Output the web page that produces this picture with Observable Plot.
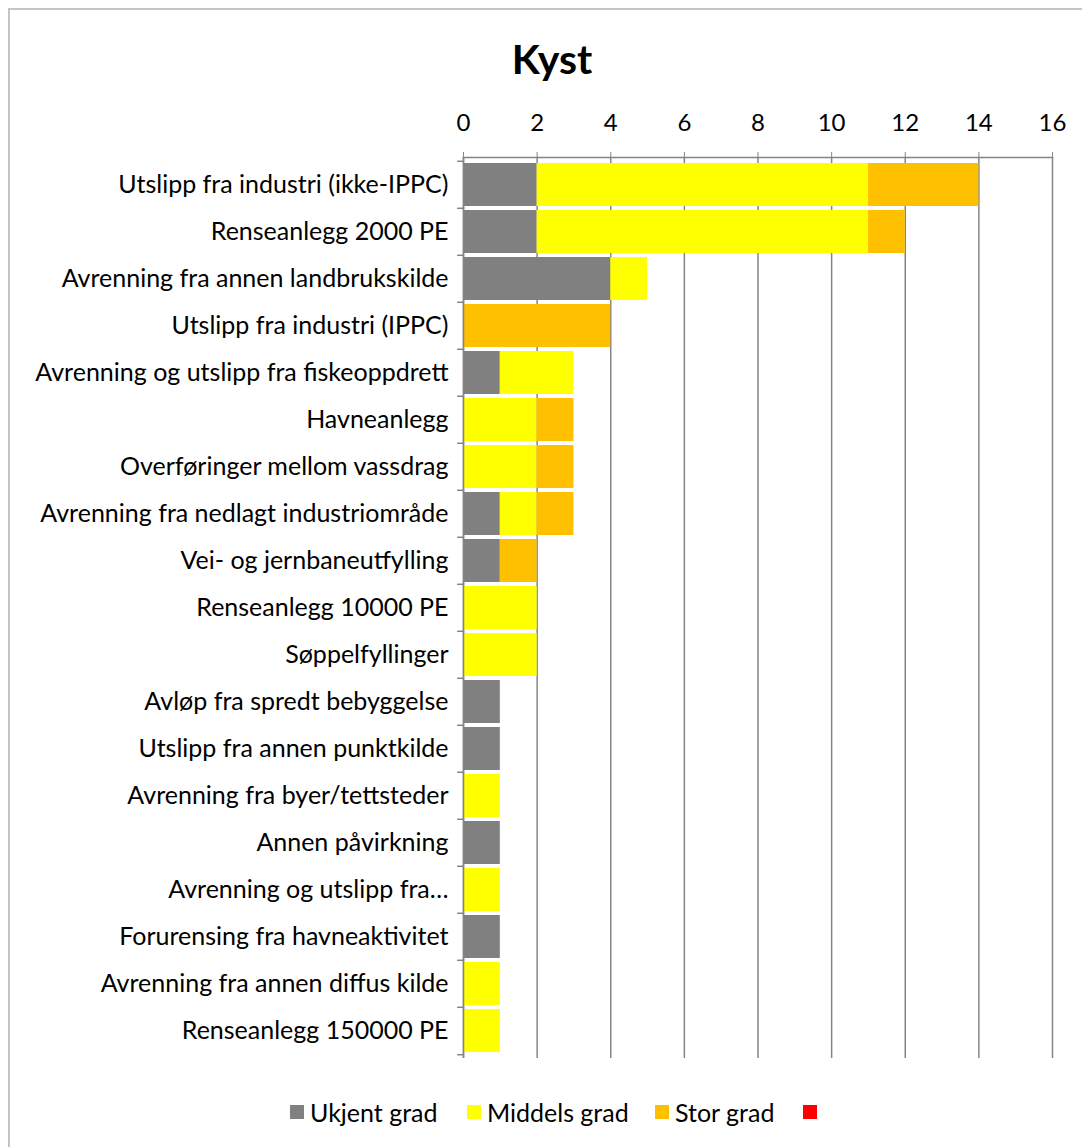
<!DOCTYPE html>
<html>
<head>
<meta charset="utf-8">
<script src="https://cdn.jsdelivr.net/npm/d3@7"></script>
<script src="https://cdn.jsdelivr.net/npm/@observablehq/plot@0.6"></script>
<style>
  html, body { margin: 0; padding: 0; background: #fff; overflow: hidden; }
  #wrap { position: relative; width: 1082px; height: 1147px; font-family: Lato, "Open Sans", sans-serif; }
  #frame { position: absolute; left: 8px; top: 8px; width: 1200px; height: 1300px; border-left: 2px solid #c4c4c4; border-top: 2px solid #c4c4c4; }
  #title { position: absolute; left: 0; width: 1104px; top: 34px; text-align: center; font-weight: 700; font-size: 41px; line-height: 50px; color: #000; }
  #chart { position: absolute; left: 0; top: 0; }
  #legend { position: absolute; left: 0; top: 1095px; width: 1082px; height: 34px; font-size: 25px; color: #000; }
  .li { position: absolute; top: 0; height: 34px; display: flex; align-items: center; }
  .sw { width: 14px; height: 14px; margin-right: 6px; }
</style>
</head>
<body>
<div id="wrap">
  <div id="frame"></div>
  <div id="title">Kyst</div>
  <div id="chart"></div>
  <div id="legend"></div>
</div>
<script>
const categories = [
  "Utslipp fra industri (ikke-IPPC)",
  "Renseanlegg 2000 PE",
  "Avrenning fra annen landbrukskilde",
  "Utslipp fra industri (IPPC)",
  "Avrenning og utslipp fra fiskeoppdrett",
  "Havneanlegg",
  "Overføringer mellom vassdrag",
  "Avrenning fra nedlagt industriområde",
  "Vei- og jernbaneutfylling",
  "Renseanlegg 10000 PE",
  "Søppelfyllinger",
  "Avløp fra spredt bebyggelse",
  "Utslipp fra annen punktkilde",
  "Avrenning fra byer/tettsteder",
  "Annen påvirkning",
  "Avrenning og utslipp fra…",
  "Forurensing fra havneaktivitet",
  "Avrenning fra annen diffus kilde",
  "Renseanlegg 150000 PE"
];
const ukjentGrad   = [2, 2, 4, 0, 1, 0, 0, 1, 1, 0, 0, 1, 1, 0, 1, 0, 1, 0, 0];
const middelsGrad  = [9, 9, 1, 0, 2, 2, 2, 1, 0, 2, 2, 0, 0, 1, 0, 1, 0, 1, 1];
const storGrad     = [3, 1, 0, 4, 0, 1, 1, 1, 1, 0, 0, 0, 0, 0, 0, 0, 0, 0, 0];
const rodGrad      = [0, 0, 0, 0, 0, 0, 0, 0, 0, 0, 0, 0, 0, 0, 0, 0, 0, 0, 0];

const seriesKeys   = ["Ukjent grad", "Middels grad", "Stor grad", "rød"];
const seriesLabels = ["Ukjent grad", "Middels grad", "Stor grad", ""];
const seriesColors = ["#808080", "#FFFF00", "#FFC000", "#FF0000"];
const seriesValues = [ukjentGrad, middelsGrad, storGrad, rodGrad];
const xTicks = [0, 2, 4, 6, 8, 10, 12, 14, 16];

const rows = [];
categories.forEach((c, i) => {
  seriesKeys.forEach((s, j) => {
    rows.push({cat: c, series: s, order: j, value: seriesValues[j][i]});
  });
});

const marginTop = 157, bottomY = 1058, H = 1090;
const step = (bottomY - marginTop) / categories.length;

const chart = Plot.plot({
  width: 1082,
  height: H,
  marginTop: marginTop,
  marginBottom: H - bottomY,
  marginLeft: 463,
  marginRight: 30,
  style: {fontFamily: "Lato, 'Open Sans', sans-serif", fontSize: "25px", color: "#000", background: "transparent"},
  x: {domain: [0, 16], label: null},
  y: {domain: categories, padding: 0.08, label: null},
  color: {domain: seriesKeys, range: seriesColors},
  marks: [
    Plot.gridX(xTicks, {stroke: "#858585", strokeOpacity: 1, strokeWidth: 1.5}),
    Plot.barX(rows.filter(d => d.value > 0), Plot.stackX({x: "value", y: "cat", fill: "series", order: seriesKeys})),
    Plot.ruleX([0], {stroke: "#858585", strokeWidth: 1.5}),
    Plot.frame({anchor: "top", stroke: "#858585", strokeWidth: 1.5}),
    Plot.axisX(xTicks, {anchor: "top", tickSize: 6, tickPadding: 21, stroke: "#858585", fontSize: 24, label: null}),
    Plot.axisY({tickSize: 0, tickPadding: 15, fontSize: 25, label: null}),
    Plot.ruleY(categories, {y: d => d, x1: -0.16, x2: 0, dy: -step / 2, stroke: "#858585", strokeWidth: 1.5}),
    Plot.ruleY([categories[categories.length - 1]], {y: d => d, x1: -0.16, x2: 0, dy: step / 2, stroke: "#858585", strokeWidth: 1.5})
  ]
});
document.getElementById("chart").appendChild(chart);

// legend
const legendX = [290, 467, 655, 803];
const legend = document.getElementById("legend");
seriesKeys.forEach((k, j) => {
  const item = document.createElement("div");
  item.className = "li";
  item.style.left = legendX[j] + "px";
  const sw = document.createElement("div");
  sw.className = "sw";
  sw.style.background = seriesColors[j];
  item.appendChild(sw);
  if (seriesLabels[j]) {
    const t = document.createElement("span");
    t.textContent = seriesLabels[j];
    item.appendChild(t);
  }
  legend.appendChild(item);
});
</script>
</body>
</html>
